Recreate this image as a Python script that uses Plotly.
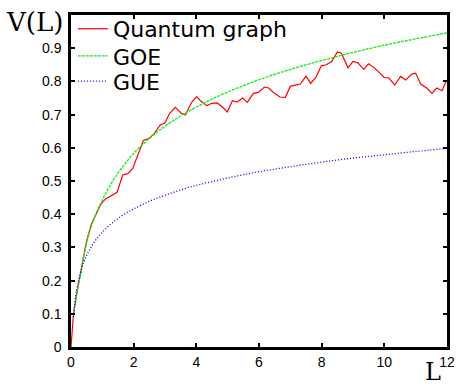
import plotly.graph_objects as go

# Quantum graph number variance
qg_L = [0, 0.08, 0.2, 0.35, 0.5, 0.65, 0.85, 0.95, 1.1, 1.27, 1.47, 1.65, 1.81, 1.97,
        2.12, 2.31, 2.49, 2.65, 2.84, 2.99, 3.15, 3.33, 3.52, 3.65, 3.85, 4.01, 4.15,
        4.33, 4.5, 4.67, 4.84, 4.99, 5.15, 5.3, 5.48, 5.63, 5.82, 5.98, 6.17, 6.31,
        6.48, 6.67, 6.84, 7.0, 7.16, 7.32, 7.5, 7.65, 7.82, 7.99, 8.15, 8.32, 8.5,
        8.63, 8.84, 9.0, 9.16, 9.34, 9.5, 9.69, 9.86, 10.0, 10.14, 10.33, 10.52,
        10.68, 10.87, 11.0, 11.16, 11.35, 11.52, 11.67, 11.84, 11.97]
qg_V = [0, 0.10, 0.17, 0.25, 0.32, 0.37, 0.413, 0.43, 0.446, 0.455, 0.466, 0.518, 0.522,
        0.538, 0.578, 0.622, 0.628, 0.642, 0.668, 0.674, 0.704, 0.722, 0.704, 0.699,
        0.737, 0.754, 0.74, 0.727, 0.734, 0.735, 0.722, 0.708, 0.742, 0.738, 0.75,
        0.737, 0.764, 0.767, 0.783, 0.78, 0.765, 0.753, 0.752, 0.785, 0.789, 0.792,
        0.816, 0.794, 0.813, 0.847, 0.85, 0.86, 0.889, 0.885, 0.841, 0.86, 0.856,
        0.836, 0.853, 0.84, 0.825, 0.811, 0.811, 0.789, 0.815, 0.804, 0.822, 0.825,
        0.792, 0.78, 0.764, 0.78, 0.772, 0.8]

goe_L = [0.08, 0.1, 0.15, 0.2, 0.3, 0.4, 0.5, 0.6, 0.7, 0.85, 1.0, 1.25, 1.5, 1.75, 2.0,
         2.5, 3.0, 3.5, 4.0, 4.5, 5.0, 5.5, 6.0, 7.0, 8.0, 9.0, 10.0, 11.0, 12.0]
goe_V = [0.10, 0.113, 0.145, 0.17, 0.215, 0.27, 0.315, 0.35, 0.378, 0.413, 0.443, 0.487,
         0.524, 0.555, 0.583, 0.628, 0.665, 0.696, 0.723, 0.747, 0.768, 0.787, 0.805,
         0.836, 0.863, 0.887, 0.909, 0.928, 0.946]

gue_L = [0.08, 0.1, 0.15, 0.2, 0.3, 0.4, 0.5, 0.6, 0.7, 0.85, 1.0, 1.25, 1.5, 1.75, 2.0,
         2.5, 3.0, 3.5, 4.0, 4.5, 5.0, 5.5, 6.0, 7.0, 8.0, 9.0, 10.0, 11.0, 12.0]
gue_V = [0.09, 0.113, 0.153, 0.183, 0.224, 0.253, 0.276, 0.294, 0.31, 0.33, 0.346, 0.369,
         0.387, 0.403, 0.416, 0.439, 0.457, 0.473, 0.487, 0.498, 0.509, 0.519, 0.528,
         0.543, 0.557, 0.569, 0.579, 0.589, 0.598]

x_ticks = [0, 2, 4, 6, 8, 10, 12]
y_ticks = [0, 0.1, 0.2, 0.3, 0.4, 0.5, 0.6, 0.7, 0.8, 0.9]
y_labels = ["0", "0.1", "0.2", "0.3", "0.4", "0.5", "0.6", "0.7", "0.8", "0.9"]

fig = go.Figure()
fig.add_trace(go.Scatter(x=qg_L, y=qg_V, mode="lines", name="Quantum graph",
                         legend="legend",
                         line=dict(color="#ff0000", width=1.2)))
fig.add_trace(go.Scatter(x=goe_L, y=goe_V, mode="lines", name="GOE",
                         legend="legend2",
                         line=dict(color="#11ee11", width=1.3, dash="3px,1px", shape="spline")))
fig.add_trace(go.Scatter(x=gue_L, y=gue_V, mode="lines", name="GUE",
                         legend="legend3",
                         line=dict(color="#0000ff", width=1.3, dash="1px,2px", shape="spline")))

axis_common = dict(showline=True, linecolor="black", linewidth=2.5, mirror="ticks",
                   ticks="inside", ticklen=4, tickwidth=2, tickcolor="black",
                   showgrid=False, zeroline=False, ticklabeloverflow="allow",
                   tickfont=dict(family="Liberation Sans", size=14, color="black"))

fig.update_xaxes(range=[0, 12], tickvals=x_ticks, ticktext=[str(v) for v in x_ticks],
                 **axis_common)
fig.update_yaxes(range=[0, 1.0], tickvals=y_ticks, ticktext=y_labels,
                 ticklabelstandoff=4, **axis_common)

legend_style = dict(x=0.005, xanchor="left", yanchor="middle",
                    bgcolor="rgba(0,0,0,0)", borderwidth=0,
                    font=dict(family="DejaVu Sans", size=22, color="black"))

fig.update_layout(
    width=457, height=385,
    margin=dict(l=71, r=10, t=15, b=38, autoexpand=False),
    paper_bgcolor="white", plot_bgcolor="white",
    showlegend=True,
    legend=dict(y=0.958, **legend_style),
    legend2=dict(y=0.876, **legend_style),
    legend3=dict(y=0.800, **legend_style),
    annotations=[
        dict(text="V(L)", xref="paper", yref="paper", x=-0.098, y=0.979,
             xanchor="center", yanchor="middle", showarrow=False,
             font=dict(family="DejaVu Serif", size=26, color="black")),
        dict(text="L", xref="paper", yref="paper", x=0.964, y=-0.074,
             xanchor="center", yanchor="middle", showarrow=False,
             font=dict(family="DejaVu Serif", size=24, color="black")),
    ],
)

fig.write_html("out.html", config={"displayModeBar": False},
               post_script="document.body.style.margin='0';document.body.style.overflow='hidden';")
